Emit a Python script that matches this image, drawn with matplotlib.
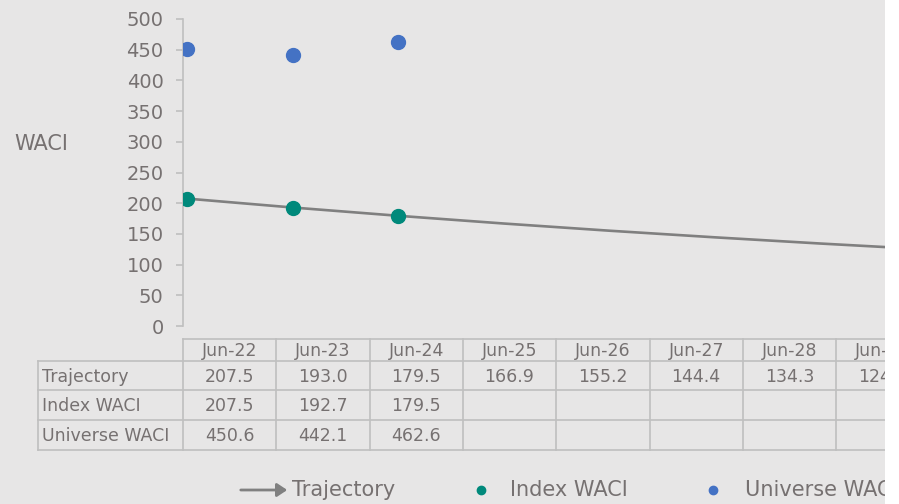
import matplotlib.pyplot as plt
from matplotlib.patches import Rectangle, FancyArrowPatch

plt.rcParams['font.family'] = ['DejaVu Sans']

# Data
periods = ["Jun-22", "Jun-23", "Jun-24", "Jun-25", "Jun-26", "Jun-27", "Jun-28", "Jun-29"]
trajectory = [207.5, 193.0, 179.5, 166.9, 155.2, 144.4, 134.3, 124.9]
index_waci = [207.5, 192.7, 179.5]
universe_waci = [450.6, 442.1, 462.6]

W, H = 899, 504
bg = "#e7e6e6"
grid_col = "#bfbfbf"
txt_col = "#767171"
teal = "#00897b"
blue = "#4472c4"
line_col = "#808080"

fig = plt.figure(figsize=(W / 100, H / 100), dpi=100)
fig.patch.set_facecolor(bg)

# main plot area (pixel layout)
left, right, top, bottom = 183, 885, 19, 326
ax = fig.add_axes([left / W, 1 - bottom / H, (right - left) / W, (bottom - top) / H])
ax.set_facecolor("none")
for s in ["top", "right", "bottom"]:
    ax.spines[s].set_visible(False)
ax.spines["left"].set_color(grid_col)
ax.spines["left"].set_linewidth(1.2)

x_traj = list(range(len(trajectory)))
ax.plot(x_traj, trajectory, color=line_col, lw=1.9, zorder=2, solid_capstyle="butt")
ax.plot(range(len(index_waci)), index_waci, "o", color=teal, ms=10, zorder=3, lw=0)
ax.plot(range(len(universe_waci)), universe_waci, "o", color=blue, ms=10, zorder=3, lw=0)

step = 105.6
ax.set_xlim((left - 187) / step, (right - 187) / step)
ax.set_ylim(0, 500)
ax.set_yticks(range(0, 501, 50))
ax.set_xticks([])
ax.tick_params(axis="y", direction="out", length=5, width=1.2, color=grid_col,
               labelcolor=txt_col, labelsize=14, pad=9)

fig.text(14 / W, 1 - 144 / H, "WACI", fontsize=15, color=txt_col, va="center", ha="left")

# data table drawn in pixel coordinates
tax = fig.add_axes([0, 0, 1, 1])
tax.set_xlim(0, W)
tax.set_ylim(H, 0)
tax.axis("off")

col_w = 93.3
row_lines = [339, 361, 390, 420, 450]
x_first = 38
n_cols = len(periods)
x_end = left + col_w * n_cols

tax.plot([left, x_end], [row_lines[0]] * 2, color=grid_col, lw=1.2)
for yl in row_lines[1:]:
    tax.plot([x_first, x_end], [yl, yl], color=grid_col, lw=1.2)
tax.plot([x_first, x_first], [row_lines[1], row_lines[-1]], color=grid_col, lw=1.2)
for i in range(n_cols + 1):
    xc = left + col_w * i
    tax.plot([xc, xc], [row_lines[0], row_lines[-1]], color=grid_col, lw=1.2)

fs_tab = 12.5
for i, p in enumerate(periods):
    tax.text(left + col_w * (i + 0.5), (row_lines[0] + row_lines[1]) / 2 + 1, p,
             ha="center", va="center", fontsize=fs_tab, color=txt_col)

rows = [("Trajectory", trajectory), ("Index WACI", index_waci), ("Universe WACI", universe_waci)]
for r, (name, vals) in enumerate(rows):
    yc = (row_lines[r + 1] + row_lines[r + 2]) / 2 + 1
    tax.text(42, yc, name, ha="left", va="center", fontsize=fs_tab, color=txt_col)
    for i, v in enumerate(vals):
        tax.text(left + col_w * (i + 0.5), yc, f"{v:.1f}", ha="center", va="center",
                 fontsize=fs_tab, color=txt_col)

# legend
ly = 490
arrow = FancyArrowPatch((238, ly), (290, ly), arrowstyle="-|>,head_length=6,head_width=4",
                        color=line_col, lw=2, mutation_scale=1, transform=tax.transData)
tax.add_patch(arrow)
tax.text(292, ly, "Trajectory", ha="left", va="center", fontsize=15, color=txt_col)
tax.plot([481], [ly], "o", color=teal, ms=6)
tax.text(510, ly, "Index WACI", ha="left", va="center", fontsize=15, color=txt_col)
tax.plot([713], [ly], "o", color=blue, ms=6)
tax.text(745, ly, "Universe WACI", ha="left", va="center", fontsize=15, color=txt_col)

# right edge of the chart is cropped
fig.add_artist(Rectangle((right / W, 0), (W - right) / W, 1, transform=fig.transFigure,
                         facecolor="white", edgecolor="none", zorder=100))

fig.savefig("out.png", dpi=100, facecolor=fig.get_facecolor())
